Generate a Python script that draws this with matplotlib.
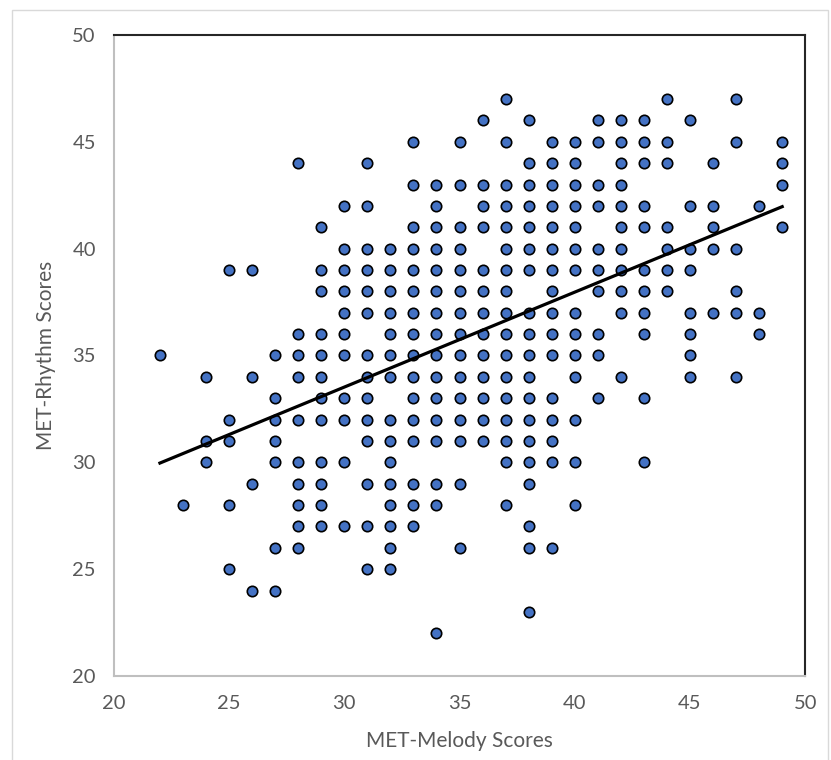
import numpy as np
import matplotlib
matplotlib.use("Agg")
from matplotlib import pyplot as plt
from matplotlib.patches import Rectangle

# melody score (x) and the rhythm scores (y) observed at that melody score
melody_values = [22, 23, 24, 25, 26, 27, 28, 29, 30, 31, 32, 33, 34, 35,
                 36, 37, 38, 39, 40, 41, 42, 43, 44, 45, 46, 47, 48, 49]
rhythm_values = [
    [35],
    [28],
    [34, 31, 30],
    [39, 32, 31, 28, 25],
    [39, 34, 29, 24],
    [35, 33, 32, 31, 30, 26, 24],
    [44, 36, 35, 34, 32, 30, 29, 28, 27, 26],
    [41, 39, 38, 36, 35, 34, 33, 32, 30, 29, 28, 27],
    [42, 40, 39, 38, 37, 36, 35, 33, 32, 30, 27],
    [44, 42, 40, 39, 38, 37, 35, 34, 33, 32, 31, 29, 27, 25],
    [40, 39, 38, 37, 36, 35, 34, 32, 31, 30, 29, 28, 27, 26, 25],
    [45, 43, 41, 40, 39, 38, 37, 36, 35, 34, 33, 32, 31, 29, 28, 27],
    [43, 42, 41, 40, 39, 38, 37, 36, 35, 34, 33, 32, 31, 29, 28, 22],
    [45, 43, 41, 40, 39, 38, 37, 36, 35, 34, 33, 32, 31, 29, 26],
    [46, 43, 42, 41, 39, 38, 37, 36, 35, 34, 33, 32, 31],
    [47, 45, 43, 42, 41, 40, 39, 38, 37, 36, 35, 34, 33, 32, 31, 30, 28],
    [46, 44, 43, 42, 41, 40, 39, 37, 36, 35, 34, 33, 32, 31, 30, 29, 27, 26, 23],
    [45, 44, 43, 42, 41, 40, 39, 38, 37, 36, 35, 33, 32, 31, 30, 26],
    [45, 44, 43, 42, 41, 40, 39, 37, 36, 35, 34, 32, 30, 28],
    [46, 45, 43, 42, 40, 39, 38, 36, 35, 33],
    [46, 45, 44, 43, 42, 41, 40, 39, 38, 37, 34],
    [46, 45, 44, 42, 41, 39, 38, 37, 36, 33, 30],
    [47, 45, 44, 41, 40, 39, 38],
    [46, 42, 40, 39, 37, 36, 35, 34],
    [44, 42, 41, 40, 37],
    [47, 45, 40, 38, 37, 34],
    [42, 37, 36],
    [45, 44, 43, 41],
]

x = np.array([m for m, ys in zip(melody_values, rhythm_values) for _ in ys], dtype=float)
y = np.array([v for ys in rhythm_values for v in ys], dtype=float)

plt.rcParams["font.family"] = ["Lato", "DejaVu Sans"]

fig = plt.figure(figsize=(8.31, 7.60), dpi=100)
ax = fig.add_axes([0.137, 0.1105, 0.832, 0.8435])

ax.scatter(x, y, s=56, c="#4472C4", edgecolors="black", linewidths=1.2, zorder=3)

# linear trendline
slope, intercept = np.polyfit(x, y, 1)
xl = np.array([x.min(), x.max()])
ax.plot(xl, slope * xl + intercept, color="black", linewidth=2.3, zorder=4)

ax.set_xlim(20, 50)
ax.set_ylim(20, 50)
ax.set_xticks(range(20, 51, 5))
ax.set_yticks(range(20, 51, 5))
ax.tick_params(length=0, labelsize=14.5, labelcolor="#595959")
ax.tick_params(axis="x", pad=14)
ax.tick_params(axis="y", pad=13)

for side in ["top", "right"]:
    ax.spines[side].set_color("#262626")
    ax.spines[side].set_linewidth(1.5)
for side in ["left", "bottom"]:
    ax.spines[side].set_color("#bfbfbf")
    ax.spines[side].set_linewidth(1.5)

ax.set_xlabel("MET-Melody Scores", fontsize=15, color="#595959", labelpad=13)
ax.set_ylabel("MET-Rhythm Scores", fontsize=15, color="#595959", labelpad=12)

# outer chart border
fig.patches.append(Rectangle((12 / 831, -0.01), 816 / 831, 1 - 10 / 760 + 0.01,
                             transform=fig.transFigure, fill=False,
                             edgecolor="#d9d9d9", linewidth=1.0))

fig.savefig("out.png", dpi=100)
